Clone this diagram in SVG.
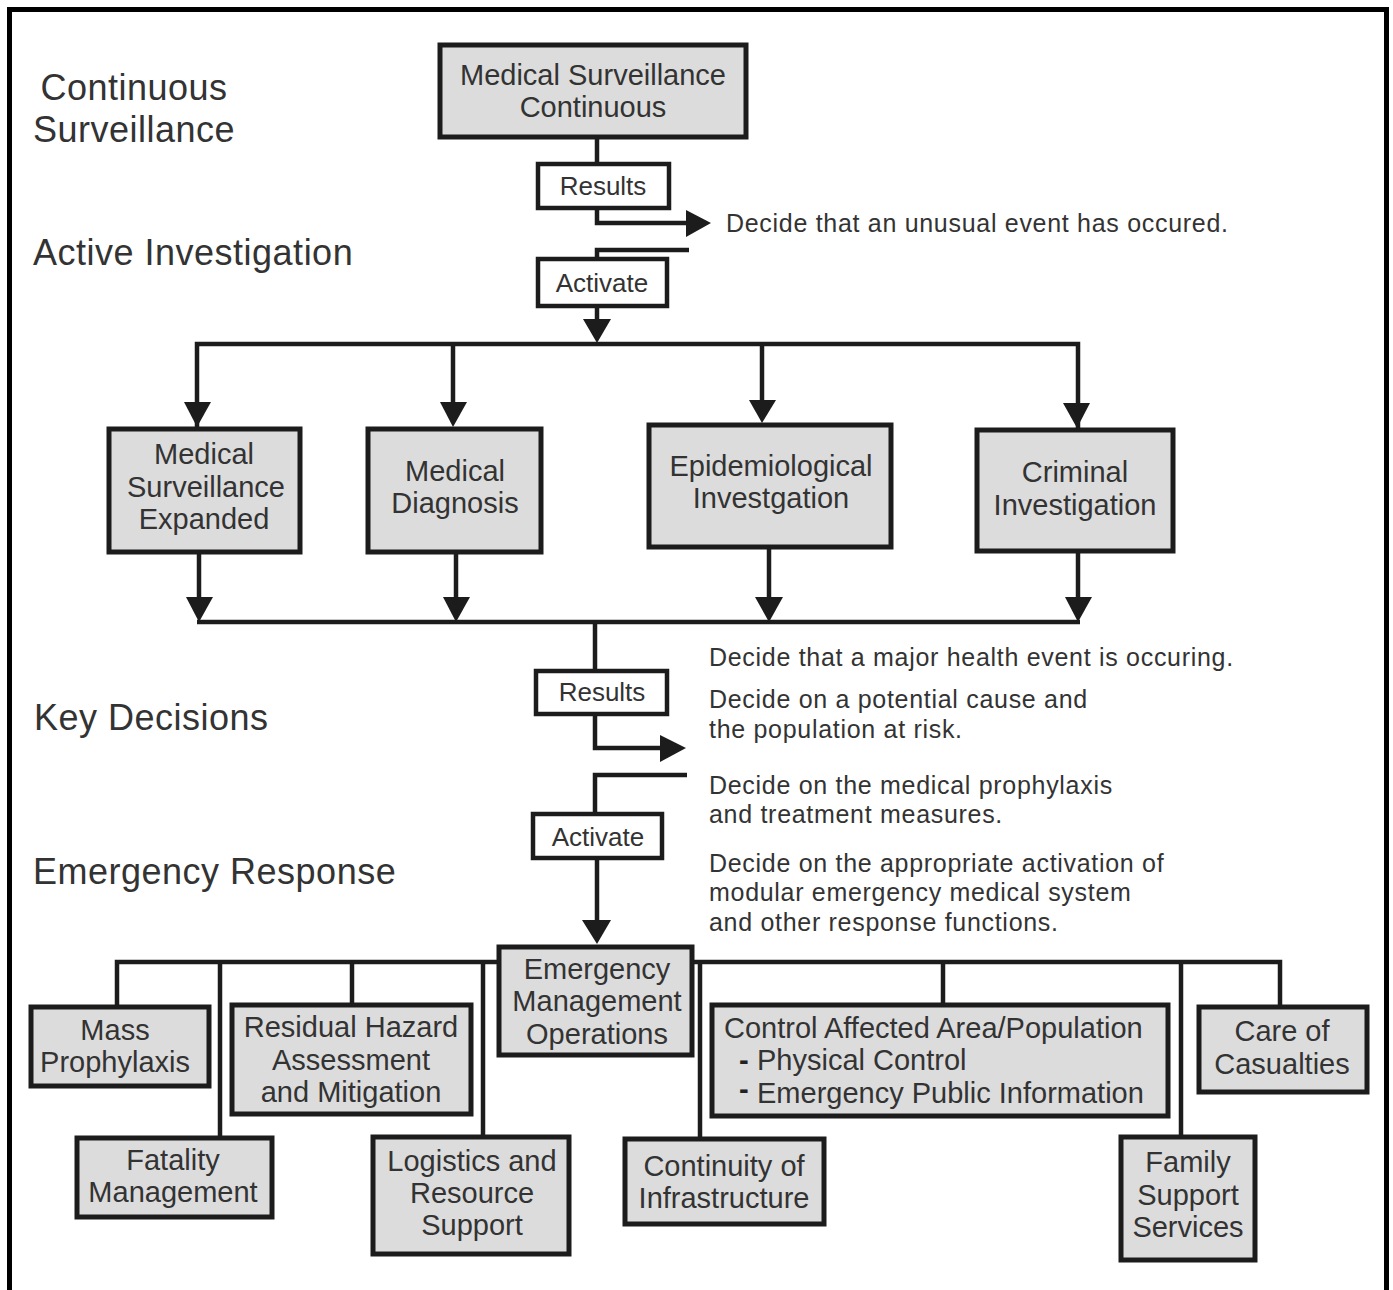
<svg xmlns="http://www.w3.org/2000/svg" width="1393" height="1290" viewBox="0 0 1393 1290">
<style>
  .box { fill: #dcdcdc; stroke: #1c1c1c; stroke-width: 5; }
  .lbl { fill: #ffffff; stroke: #1c1c1c; stroke-width: 4.5; }
  .t { font-family: "Liberation Sans", Arial, sans-serif; font-size: 29px; fill: #333; text-anchor: middle; }
  .tl { font-family: "Liberation Sans", Arial, sans-serif; font-size: 29px; fill: #333; text-anchor: start; }
  .dash { font-weight: bold; fill: #222; }
  .s { font-family: "Liberation Sans", Arial, sans-serif; font-size: 26px; fill: #333; text-anchor: middle; }
  .h { font-family: "Liberation Sans", Arial, sans-serif; font-size: 36px; fill: #333; letter-spacing: 0.5px; }
  .hc { text-anchor: middle; }
  .d { font-family: "Liberation Sans", Arial, sans-serif; font-size: 25px; fill: #333; letter-spacing: 0.7px; }
  .c { fill: none; stroke: #1c1c1c; stroke-width: 4.5; }
  .ah { fill: #1c1c1c; }
</style>
<rect width="1393" height="1290" fill="#fff"/>
<path d="M9.5,1290 V9.5 H1386.5 V1290" fill="none" stroke="#000" stroke-width="5"/>

<g id="section-labels">
  <text class="h hc" x="134" y="100">Continuous</text>
  <text class="h hc" x="134" y="142">Surveillance</text>
  <text class="h" x="33" y="265">Active Investigation</text>
  <text class="h" x="34" y="730">Key Decisions</text>
  <text class="h" x="33" y="884">Emergency Response</text>
</g>

<g id="connectors">
  <path class="c" d="M597,138 V163"/>
  <path class="c" d="M597,208 V223 H689"/>
  <polygon class="ah" points="686,210 711,223 686,237"/>
  <path class="c" d="M689,250 H597 V258"/>
  <path class="c" d="M597,307 V325"/>
  <polygon class="ah" points="583,319 611,319 597,343"/>
  <path class="c" d="M197,427 V344 H1078 V428"/>
  <path class="c" d="M453,344 V410"/>
  <path class="c" d="M762,344 V410"/>
  <polygon class="ah" points="184,402 211,402 197,427"/>
  <polygon class="ah" points="440,402 467,402 453,427"/>
  <polygon class="ah" points="749,400 776,400 762,423"/>
  <polygon class="ah" points="1063,403 1090,403 1077,428"/>
  <path class="c" d="M199,553 V605"/>
  <path class="c" d="M456,553 V605"/>
  <path class="c" d="M769,548 V605"/>
  <path class="c" d="M1078,552 V605"/>
  <polygon class="ah" points="186,597 213,597 199,622"/>
  <polygon class="ah" points="443,597 470,597 456,622"/>
  <polygon class="ah" points="755,597 783,597 769,622"/>
  <polygon class="ah" points="1065,597 1092,597 1078,622"/>
  <path class="c" d="M197,622 H1080"/>
  <path class="c" d="M595,622 V670"/>
  <path class="c" d="M595,715 V748 H664"/>
  <polygon class="ah" points="660,735 686,748 660,762"/>
  <path class="c" d="M687,775 H595 V813"/>
  <path class="c" d="M597,858 V925"/>
  <polygon class="ah" points="582,920 611,920 597,944"/>
  <path class="c" d="M117,1005 V962 H1280 V1005"/>
  <path class="c" d="M220,962 V1136"/>
  <path class="c" d="M352,962 V1003"/>
  <path class="c" d="M483,962 V1135"/>
  <path class="c" d="M700,962 V1137"/>
  <path class="c" d="M943,962 V1003"/>
  <path class="c" d="M1181,962 V1135"/>
</g>

<g id="n-msc">
  <rect class="box" x="440" y="45" width="306" height="92"/>
  <text class="t" x="593" y="85">Medical Surveillance</text>
  <text class="t" x="593" y="117">Continuous</text>
</g>
<g id="n-results1">
  <rect class="lbl" x="538" y="164" width="131" height="44"/>
  <text class="s" x="603" y="195">Results</text>
</g>
<g id="n-decide1">
  <text class="d" x="726" y="232">Decide that an unusual event has occured.</text>
</g>
<g id="n-activate1">
  <rect class="lbl" x="538" y="259" width="129" height="47"/>
  <text class="s" x="602" y="292">Activate</text>
</g>

<g id="n-mse">
  <rect class="box" x="109" y="429" width="191" height="123"/>
  <text class="t" x="204" y="464">Medical</text>
  <text class="t" x="206" y="497">Surveillance</text>
  <text class="t" x="204" y="529">Expanded</text>
</g>
<g id="n-md">
  <rect class="box" x="368" y="429" width="173" height="123"/>
  <text class="t" x="455" y="481">Medical</text>
  <text class="t" x="455" y="513">Diagnosis</text>
</g>
<g id="n-epi">
  <rect class="box" x="649" y="425" width="242" height="122"/>
  <text class="t" x="771" y="476">Epidemiological</text>
  <text class="t" x="771" y="508">Investgation</text>
</g>
<g id="n-ci">
  <rect class="box" x="977" y="430" width="196" height="121"/>
  <text class="t" x="1075" y="482">Criminal</text>
  <text class="t" x="1075" y="515">Investigation</text>
</g>

<g id="n-results2">
  <rect class="lbl" x="536" y="671" width="131" height="43"/>
  <text class="s" x="602" y="701">Results</text>
</g>
<g id="n-activate2">
  <rect class="lbl" x="533" y="814" width="129" height="44"/>
  <text class="s" x="598" y="846">Activate</text>
</g>
<g id="n-decisions">
  <text class="d" x="709" y="666">Decide that a major health event is occuring.</text>
  <text class="d" x="709" y="708">Decide on a potential cause and</text>
  <text class="d" x="709" y="738">the population at risk.</text>
  <text class="d" x="709" y="794">Decide on the medical prophylaxis</text>
  <text class="d" x="709" y="823">and treatment measures.</text>
  <text class="d" x="709" y="872">Decide on the appropriate activation of</text>
  <text class="d" x="709" y="901">modular emergency medical system</text>
  <text class="d" x="709" y="931">and other response functions.</text>
</g>

<g id="n-emo">
  <rect class="box" x="499" y="947" width="193" height="108"/>
  <text class="t" x="597" y="979">Emergency</text>
  <text class="t" x="597" y="1011">Management</text>
  <text class="t" x="597" y="1044">Operations</text>
</g>
<g id="n-mass">
  <rect class="box" x="31" y="1007" width="178" height="79"/>
  <text class="t" x="115" y="1040">Mass</text>
  <text class="t" x="115" y="1072">Prophylaxis</text>
</g>
<g id="n-residual">
  <rect class="box" x="232" y="1005" width="239" height="109"/>
  <text class="t" x="351" y="1037">Residual Hazard</text>
  <text class="t" x="351" y="1070">Assessment</text>
  <text class="t" x="351" y="1102">and Mitigation</text>
</g>
<g id="n-fatality">
  <rect class="box" x="77" y="1138" width="195" height="79"/>
  <text class="t" x="173" y="1170">Fatality</text>
  <text class="t" x="173" y="1202">Management</text>
</g>
<g id="n-logistics">
  <rect class="box" x="373" y="1137" width="196" height="117"/>
  <text class="t" x="472" y="1171">Logistics and</text>
  <text class="t" x="472" y="1203">Resource</text>
  <text class="t" x="472" y="1235">Support</text>
</g>
<g id="n-continuity">
  <rect class="box" x="625" y="1139" width="199" height="85"/>
  <text class="t" x="724" y="1176">Continuity of</text>
  <text class="t" x="724" y="1208">Infrastructure</text>
</g>
<g id="n-control">
  <rect class="box" x="712" y="1005" width="456" height="111"/>
  <text class="tl" x="724" y="1038">Control Affected Area/Population</text>
  <text class="tl" x="739" y="1070"><tspan class="dash">-</tspan><tspan x="757">Physical Control</tspan></text>
  <text class="tl" x="739" y="1103"><tspan class="dash" dy="-4">-</tspan><tspan x="757" dy="4">Emergency Public Information</tspan></text>
</g>
<g id="n-care">
  <rect class="box" x="1199" y="1007" width="168" height="85"/>
  <text class="t" x="1282" y="1041">Care of</text>
  <text class="t" x="1282" y="1074">Casualties</text>
</g>
<g id="n-family">
  <rect class="box" x="1121" y="1137" width="134" height="123"/>
  <text class="t" x="1188" y="1172">Family</text>
  <text class="t" x="1188" y="1205">Support</text>
  <text class="t" x="1188" y="1237">Services</text>
</g>
</svg>
